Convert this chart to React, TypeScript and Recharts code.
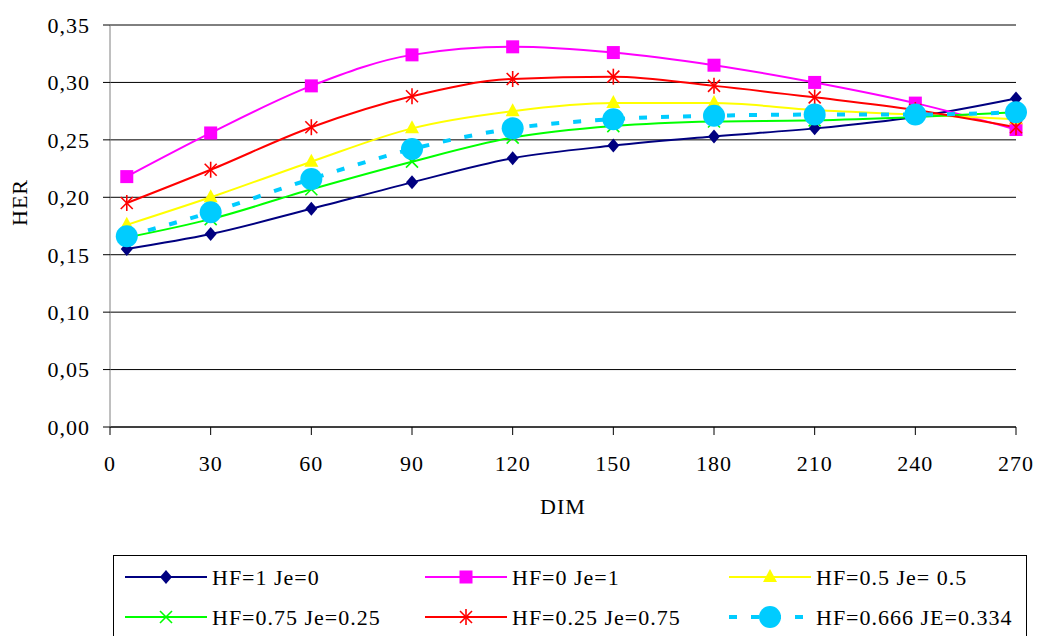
import { LineChart, Line, XAxis, YAxis, CartesianGrid } from 'recharts';

// DIM positions
const dim = [5, 30, 60, 90, 120, 150, 180, 210, 240, 270];

// HER values per weighting
const hf1Je0 = [0.155, 0.168, 0.19, 0.213, 0.234, 0.245, 0.253, 0.26, 0.27, 0.286];
const hf0Je1 = [0.218, 0.256, 0.297, 0.324, 0.331, 0.326, 0.315, 0.3, 0.282, 0.259];
const hf05Je05 = [0.176, 0.2, 0.231, 0.26, 0.275, 0.282, 0.282, 0.276, 0.272, 0.268];
const hf075Je025 = [0.165, 0.181, 0.207, 0.231, 0.252, 0.262, 0.266, 0.267, 0.27, 0.274];
const hf025Je075 = [0.195, 0.224, 0.261, 0.288, 0.303, 0.305, 0.297, 0.287, 0.276, 0.261];
const hf0666Je0334 = [0.166, 0.187, 0.216, 0.242, 0.26, 0.268, 0.271, 0.272, 0.272, 0.274];

const xTicks = [0, 30, 60, 90, 120, 150, 180, 210, 240, 270];
const yTicks = [0, 0.05, 0.1, 0.15, 0.2, 0.25, 0.3, 0.35];

type MarkerKind = 'diamond' | 'square' | 'triangle' | 'x' | 'star' | 'circle';

interface SeriesDef {
  key: string;
  name: string;
  color: string;
  marker: MarkerKind;
  values: number[];
  dashed?: boolean;
}

const series: SeriesDef[] = [
  { key: 's1', name: 'HF=1 Je=0', color: '#000080', marker: 'diamond', values: hf1Je0 },
  { key: 's2', name: 'HF=0 Je=1', color: '#FF00FF', marker: 'square', values: hf0Je1 },
  { key: 's3', name: 'HF=0.5 Je= 0.5', color: '#FFFF00', marker: 'triangle', values: hf05Je05 },
  { key: 's4', name: 'HF=0.75 Je=0.25', color: '#00FF00', marker: 'x', values: hf075Je025 },
  { key: 's5', name: 'HF=0.25 Je=0.75', color: '#FF0000', marker: 'star', values: hf025Je075 },
  { key: 's6', name: 'HF=0.666 JE=0.334', color: '#00CCFF', marker: 'circle', values: hf0666Je0334, dashed: true },
];

const data = dim.map((d, i) => {
  const row: Record<string, number> = { dim: d };
  series.forEach(s => {
    row[s.key] = s.values[i];
  });
  return row;
});

const FONT = "'Times New Roman', 'Liberation Serif', 'DejaVu Serif', serif";
const FS = 22;
// the original text is a bit wider than Times at this size
const TEXT_STYLE = { letterSpacing: '1px' };
const DASH = '8 14';

function Marker({ kind, cx, cy, color }: { kind: MarkerKind; cx: number; cy: number; color: string }) {
  switch (kind) {
    case 'diamond':
      return <polygon points={`${cx},${cy - 7} ${cx + 6},${cy} ${cx},${cy + 7} ${cx - 6},${cy}`} fill={color} />;
    case 'square':
      return <rect x={cx - 6.5} y={cy - 6.5} width={13} height={13} fill={color} />;
    case 'triangle':
      return <polygon points={`${cx},${cy - 8} ${cx + 7},${cy + 5} ${cx - 7},${cy + 5}`} fill={color} />;
    case 'x':
      return (
        <g stroke={color} strokeWidth={1.6}>
          <line x1={cx - 6} y1={cy - 6} x2={cx + 6} y2={cy + 6} />
          <line x1={cx - 6} y1={cy + 6} x2={cx + 6} y2={cy - 6} />
        </g>
      );
    case 'star':
      return (
        <g stroke={color} strokeWidth={1.6}>
          <line x1={cx} y1={cy - 8} x2={cx} y2={cy + 8} />
          <line x1={cx - 6} y1={cy - 6} x2={cx + 6} y2={cy + 6} />
          <line x1={cx - 6} y1={cy + 6} x2={cx + 6} y2={cy - 6} />
        </g>
      );
    case 'circle':
      return <circle cx={cx} cy={cy} r={11} fill={color} />;
    default:
      return null;
  }
}

// legend layout: 3 columns, 2 rows
const legendCols = [12, 312, 616];
const legendRows = [22, 62];

function ChartLegend() {
  return (
    <svg width={915} height={81} style={{ position: 'absolute', left: 113, top: 555 }}>
      <rect x={0.5} y={0.5} width={913} height={90} fill="#fff" stroke="#000" strokeWidth={1} />
      {series.map((s, i) => {
        const x0 = legendCols[i % 3];
        const y = legendRows[Math.floor(i / 3)];
        return (
          <g key={s.key}>
            <line
              x1={x0}
              y1={y}
              x2={x0 + 82}
              y2={y}
              stroke={s.color}
              strokeWidth={s.dashed ? 4 : 2}
              strokeDasharray={s.dashed ? DASH : undefined}
            />
            <Marker kind={s.marker} cx={x0 + 41} cy={y} color={s.color} />
            <text x={x0 + 87} y={y + 7.5} fontSize={FS} fontFamily={FONT} fill="#000" style={TEXT_STYLE}>
              {s.name}
            </text>
          </g>
        );
      })}
    </svg>
  );
}

export default function App() {
  return (
    <div style={{ position: 'absolute', left: 0, top: 0, width: 1037, height: 636, overflow: 'hidden', background: '#fff', fontFamily: FONT }}>
      <LineChart
        width={1037}
        height={636}
        data={data}
        margin={{ top: 25, right: 21, left: 0, bottom: 108 }}
      >
        <CartesianGrid vertical={false} stroke="#000" strokeWidth={1} />
        <XAxis
          dataKey="dim"
          type="number"
          domain={[0, 270]}
          ticks={xTicks}
          interval={0}
          height={101}
          stroke="#000"
          tickSize={8}
          tickMargin={20}
          tick={{ fill: '#000', fontSize: FS, fontFamily: FONT, style: TEXT_STYLE }}
          label={{ value: 'DIM', position: 'insideBottom', offset: 14, fill: '#000', fontSize: FS, fontFamily: FONT, style: TEXT_STYLE }}
        />
        <YAxis
          type="number"
          domain={[0, 0.35]}
          ticks={yTicks}
          interval={0}
          width={110}
          stroke="#808080"
          tickLine={{ stroke: '#000' }}
          tickSize={7}
          tickMargin={13}
          tickFormatter={(v: number) => v.toFixed(2).replace('.', ',')}
          tick={{ fill: '#000', fontSize: FS, fontFamily: FONT, style: TEXT_STYLE }}
          label={{ value: 'HER', angle: -90, position: 'insideLeft', offset: 19, fill: '#000', fontSize: FS, fontFamily: FONT, style: TEXT_STYLE }}
        />
        {series.map(s => (
          <Line
            key={s.key}
            dataKey={s.key}
            name={s.name}
            type="monotone"
            stroke={s.color}
            strokeWidth={s.dashed ? 4 : 2}
            strokeDasharray={s.dashed ? DASH : undefined}
            isAnimationActive={false}
            dot={(props: { cx?: number; cy?: number; index?: number }) => (
              <Marker key={`${s.key}-${props.index}`} kind={s.marker} cx={props.cx ?? 0} cy={props.cy ?? 0} color={s.color} />
            )}
            activeDot={false}
          />
        ))}
      </LineChart>
      <ChartLegend />
    </div>
  );
}
